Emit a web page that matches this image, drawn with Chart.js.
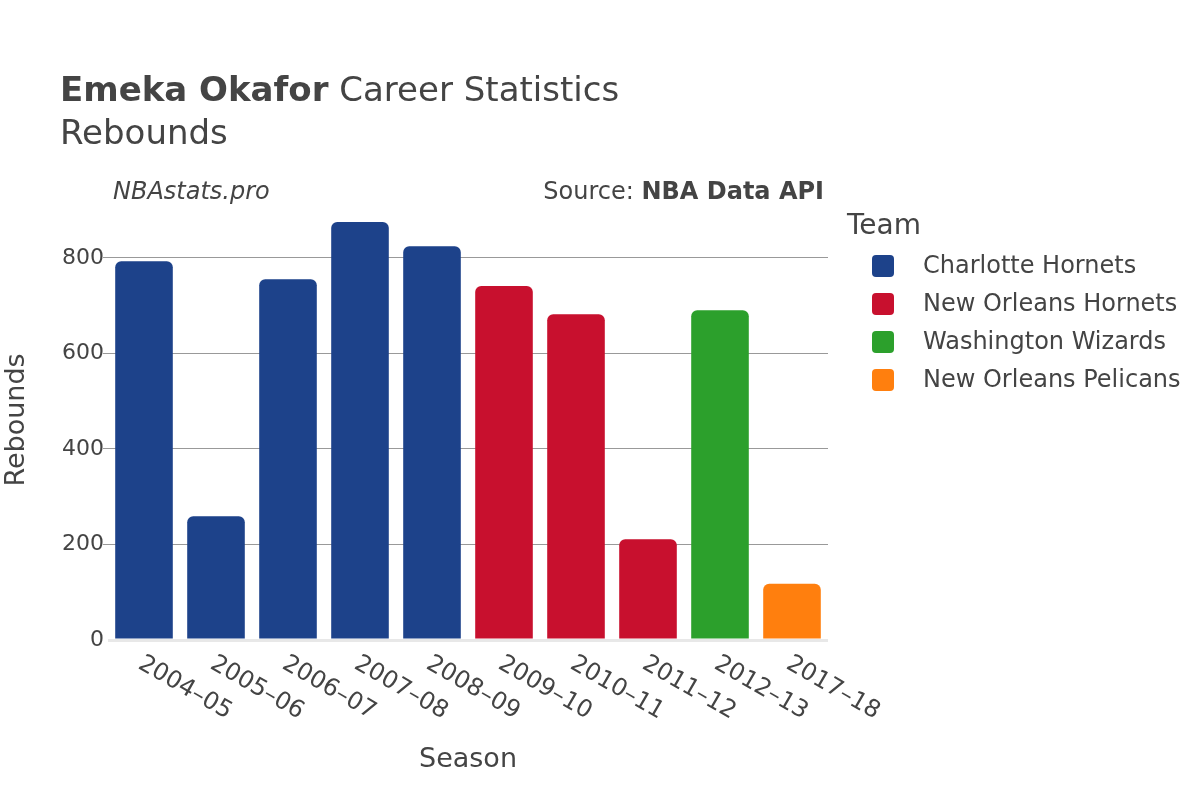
<!DOCTYPE html>
<html>
<head>
<meta charset="utf-8">
<script src="https://cdn.jsdelivr.net/npm/chart.js@4/dist/chart.umd.min.js"></script>
<style>
  body { margin: 0; background: #fff; }
  #chart { display: block; }
</style>
</head>
<body>
<canvas id="chart" width="1200" height="800"></canvas>
<script>
const seasons = ["2004–05", "2005–06", "2006–07", "2007–08", "2008–09", "2009–10", "2010–11", "2011–12", "2012–13", "2017–18"];
const rebounds = [793, 259, 755, 875, 824, 741, 682, 211, 690, 118];
const seasonTeams = [
  "Charlotte Hornets", "Charlotte Hornets", "Charlotte Hornets", "Charlotte Hornets", "Charlotte Hornets",
  "New Orleans Hornets", "New Orleans Hornets", "New Orleans Hornets",
  "Washington Wizards", "New Orleans Pelicans"
];
const teams = ["Charlotte Hornets", "New Orleans Hornets", "Washington Wizards", "New Orleans Pelicans"];
const teamColors = ["#1d428a", "#c8102e", "#2ca02c", "#ff7f0e"];
const yTicks = [0, 200, 400, 600, 800];

const textColor = "#444";
const fontFamily = "'DejaVu Sans', sans-serif";

const colorOf = (team) => teamColors[teams.indexOf(team)];

// titles, source line, legend and slanted season labels
const decorations = {
  id: "decorations",
  afterDraw(chart) {
    const ctx = chart.ctx;
    const area = chart.chartArea;
    ctx.save();
    ctx.fillStyle = textColor;
    ctx.textBaseline = "alphabetic";
    ctx.textAlign = "left";

    ctx.font = "bold 34px " + fontFamily;
    const bold = "Emeka Okafor";
    ctx.fillText(bold, 60, 101);
    const w = ctx.measureText(bold).width;
    ctx.font = "34px " + fontFamily;
    ctx.fillText(" Career Statistics", 60 + w, 101);
    ctx.fillText("Rebounds", 60, 144);

    ctx.font = "italic 24px " + fontFamily;
    ctx.fillText("NBAstats.pro", 113, 199);

    ctx.textAlign = "right";
    ctx.font = "bold 24px " + fontFamily;
    const src = "NBA Data API";
    ctx.fillText(src, 824, 199);
    const sw = ctx.measureText(src).width;
    ctx.font = "24px " + fontFamily;
    ctx.fillText("Source: ", 824 - sw, 199);

    // legend
    ctx.textAlign = "left";
    ctx.textBaseline = "middle";
    ctx.font = "28px " + fontFamily;
    ctx.fillText("Team", 847, 227);
    ctx.font = "24px " + fontFamily;
    teams.forEach((team, i) => {
      const y = 266 + i * 38;
      ctx.fillStyle = teamColors[i];
      ctx.beginPath();
      ctx.roundRect(872, y - 11, 22, 22, 4);
      ctx.fill();
      ctx.fillStyle = textColor;
      ctx.fillText(team, 923, y + 1);
    });

    // season labels, rotated 30 degrees
    const xScale = chart.scales.x;
    ctx.font = "24px " + fontFamily;
    seasons.forEach((s, i) => {
      const x = xScale.getPixelForTick(i);
      ctx.save();
      ctx.translate(x - 4, area.bottom + 22);
      ctx.rotate(Math.PI / 6);
      ctx.fillText(s, 0, 0);
      ctx.restore();
    });
    ctx.restore();
  }
};

new Chart(document.getElementById("chart"), {
  type: "bar",
  data: {
    labels: seasons,
    datasets: [
      {
        data: rebounds,
        backgroundColor: seasonTeams.map(colorOf),
        borderRadius: 6,
        barPercentage: 0.8,
        categoryPercentage: 1,
      },
    ],
  },
  options: {
    responsive: false,
    animation: false,
    layout: {
      padding: { top: 200, right: 372, left: 0, bottom: 0 },
    },
    scales: {
      x: {
        ticks: { display: false },
        grid: { display: false },
        border: { display: false },
        title: {
          display: true,
          text: "Season",
          color: textColor,
          font: { family: fontFamily, size: 27 },
          padding: { top: 0, bottom: 24 },
        },
        afterFit(scale) {
          scale.height = 160;
        },
      },
      y: {
        min: 0,
        max: 921,
        afterBuildTicks(scale) {
          scale.ticks = yTicks.map((v) => ({ value: v }));
        },
        afterFit(scale) {
          scale.width = 108;
        },
        ticks: {
          color: textColor,
          font: { family: fontFamily, size: 22 },
          padding: -1,
        },
        grid: {
          color: (c) => (c.tick && c.tick.value === 0 ? "#e8e8e8" : "#999"),
          lineWidth: (c) => (c.tick && c.tick.value === 0 ? 3 : 1),
          tickColor: (c) => (c.tick && c.tick.value === 0 ? "rgba(0,0,0,0)" : "#999"),
          tickLength: 5,
        },
        border: { display: false },
        title: {
          display: true,
          text: "Rebounds",
          color: textColor,
          font: { family: fontFamily, size: 27 },
          padding: { top: 1, bottom: 0 },
        },
      },
    },
    plugins: {
      legend: { display: false },
      tooltip: { enabled: false },
    },
  },
  plugins: [decorations],
});
</script>
</body>
</html>
